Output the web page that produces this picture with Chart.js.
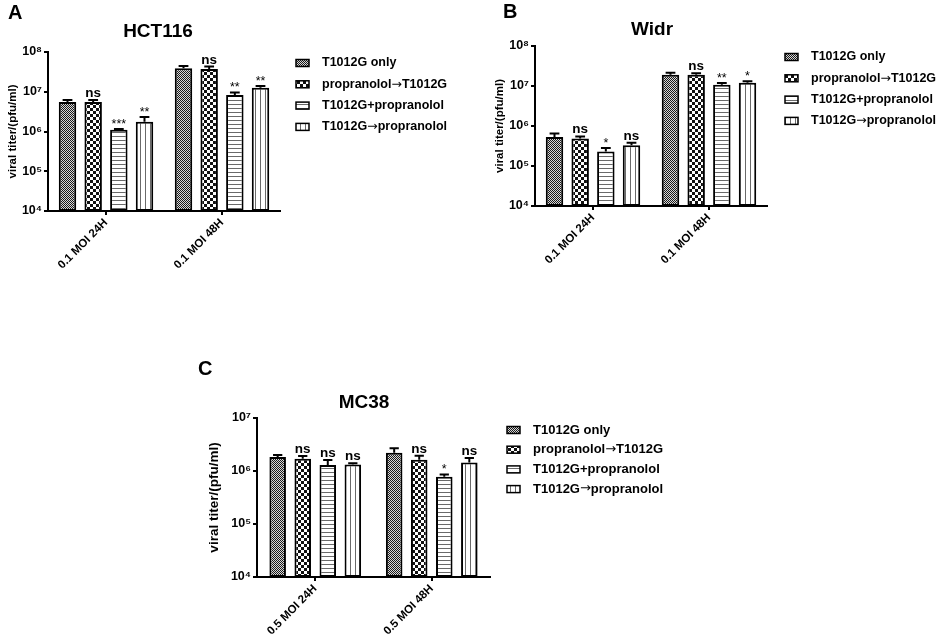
<!DOCTYPE html>
<html>
<head>
<meta charset="utf-8">
<script src="https://cdn.jsdelivr.net/npm/chart.js@4.4.1/dist/chart.umd.min.js"></script>
<style>
  html, body { margin: 0; padding: 0; background: #fff; }
  body { width: 941px; height: 642px; position: relative; overflow: hidden; }
  canvas { position: absolute; }
</style>
</head>
<body>
<canvas id="chartA" width="470" height="300" style="left:0;top:0"></canvas>
<canvas id="chartB" width="471" height="300" style="left:470px;top:0"></canvas>
<canvas id="chartC" width="500" height="302" style="left:190px;top:340px"></canvas>
<script>
const FONT = '"Liberation Sans", Arial, Helvetica, sans-serif';
const ARROW_FONT = '"DejaVu Sans", sans-serif';

// categories / series
const groupsLow = ["0.1 MOI 24H", "0.1 MOI 48H"];
const groupsHigh = ["0.5 MOI 24H", "0.5 MOI 48H"];
const seriesNames = ["T1012G only", "propranolol→T1012G", "T1012G+propranolol", "T1012G→propranolol"];
const yTicks8 = [1e4, 1e5, 1e6, 1e7, 1e8];
const yTicks7 = [1e4, 1e5, 1e6, 1e7];

// HCT116 (mean, sd, significance)
const hctOnly = [5.5e6, 3.9e7];
const hctPropFirst = [5.5e6, 3.75e7];
const hctCombo = [1.1e6, 8.3e6];
const hctPropAfter = [1.75e6, 1.26e7];
const hctOnlySd = [0.7e6, 5.5e6];
const hctPropFirstSd = [0.7e6, 5.5e6];
const hctComboSd = [0.06e6, 1.3e6];
const hctPropAfterSd = [0.55e6, 1.4e6];
const hctSig = [["", ""], ["ns", "ns"], ["***", "**"], ["**", "**"]];

// Widr
const widrOnly = [5.3e5, 1.9e7];
const widrPropFirst = [4.9e5, 1.9e7];
const widrCombo = [2.3e5, 1.07e7];
const widrPropAfter = [3.3e5, 1.2e7];
const widrOnlySd = [1.2e5, 2.4e6];
const widrPropFirstSd = [0.6e5, 1.8e6];
const widrComboSd = [0.5e5, 1.1e6];
const widrPropAfterSd = [0.5e5, 1.2e6];
const widrSig = [["", ""], ["ns", "ns"], ["*", "**"], ["ns", "*"]];

// MC38
const mcOnly = [1.84e6, 2.2e6];
const mcPropFirst = [1.7e6, 1.63e6];
const mcCombo = [1.3e6, 7.8e5];
const mcPropAfter = [1.33e6, 1.45e6];
const mcOnlySd = [0.16e6, 0.5e6];
const mcPropFirstSd = [0.22e6, 0.32e6];
const mcComboSd = [0.32e6, 0.8e5];
const mcPropAfterSd = [0.07e6, 0.31e6];
const mcSig = [["", ""], ["ns", "ns"], ["ns", "*"], ["ns", "ns"]];

function makePattern(kind) {
    const c = document.createElement("canvas");
    const g = c.getContext("2d");
    if (kind === "fine") {
        c.width = 2; c.height = 2;
        g.fillStyle = "#d8d8d8"; g.fillRect(0, 0, 2, 2);
        g.fillStyle = "#1a1a1a"; g.fillRect(0, 0, 1, 1); g.fillRect(1, 1, 1, 1);
    } else if (kind === "checker") {
        c.width = 6; c.height = 6;
        g.fillStyle = "#fff"; g.fillRect(0, 0, 6, 6);
        g.fillStyle = "#111"; g.fillRect(0, 0, 3, 3); g.fillRect(3, 3, 3, 3);
    } else if (kind === "hlines") {
        c.width = 4; c.height = 4;
        g.fillStyle = "#fff"; g.fillRect(0, 0, 4, 4);
        g.fillStyle = "#6a6a6a"; g.fillRect(0, 0, 4, 1);
    } else {
        c.width = 5; c.height = 5;
        g.fillStyle = "#fff"; g.fillRect(0, 0, 5, 5);
        g.fillStyle = "#6a6a6a"; g.fillRect(0, 0, 1, 5);
    }
    return g.createPattern(c, "repeat");
}
const patterns = [makePattern("fine"), makePattern("checker"), makePattern("hlines"), makePattern("vlines")];

const SUP = "⁰¹²³⁴⁵⁶⁷⁸⁹";
function powLabel(v) {
    const e = Math.round(Math.log10(v));
    return "10" + String(e).split("").map(d => SUP[+d]).join("");
}

// text with the arrow taken from a font that has a full-size one
function fillLabel(ctx, text, x, y, size) {
    const parts = text.split("→");
    parts.forEach((p, k) => {
        ctx.font = "bold " + size + "px " + FONT;
        ctx.fillText(p, x, y);
        x += ctx.measureText(p).width;
        if (k < parts.length - 1) {
            ctx.font = size + "px " + ARROW_FONT;
            ctx.fillText("→", x, y);
            x += ctx.measureText("→").width;
        }
    });
}

// error bars, significance marks, title, letter, legend
const panelExtras = {
    id: "panelExtras",
    afterDatasetsDraw(chart, args, opts) {
        const ctx = chart.ctx;
        const y = chart.scales.y;
        ctx.save();
        ctx.strokeStyle = "#000";
        ctx.fillStyle = "#000";
        ctx.lineWidth = 2;
        ctx.textAlign = "center";
        ctx.textBaseline = "alphabetic";
        chart.data.datasets.forEach((ds, i) => {
            chart.getDatasetMeta(i).data.forEach((bar, j) => {
                const top = y.getPixelForValue(ds.data[j] + ds.sd[j]);
                const cap = bar.width * 0.28;
                ctx.beginPath();
                ctx.moveTo(bar.x, bar.y);
                ctx.lineTo(bar.x, top);
                ctx.moveTo(bar.x - cap, top);
                ctx.lineTo(bar.x + cap, top);
                ctx.stroke();
                const s = ds.sig[j];
                if (s === "ns") {
                    ctx.font = "bold 13.5px " + FONT;
                    ctx.fillText(s, bar.x, top - 3);
                } else if (s) {
                    ctx.font = "12.5px " + FONT;
                    ctx.fillText(s, bar.x, top - 1);
                }
            });
        });
        ctx.restore();
    },
    afterDraw(chart, args, opts) {
        const ctx = chart.ctx;
        ctx.save();
        ctx.fillStyle = "#000";
        ctx.textBaseline = "alphabetic";
        ctx.textAlign = "left";
        ctx.font = "bold 20px " + FONT;
        ctx.fillText(opts.letter, opts.letterX, opts.letterY);

        ctx.textAlign = "center";
        ctx.textBaseline = "middle";
        ctx.font = "bold 19px " + FONT;
        ctx.fillText(opts.title, opts.titleX, opts.titleY);

        ctx.textAlign = "left";
        chart.data.datasets.forEach((ds, i) => {
            const cy = opts.legendTop + i * opts.legendStep;
            ctx.fillStyle = ds.backgroundColor;
            ctx.fillRect(opts.legendX, cy - 3.5, 13, 7);
            ctx.strokeStyle = "#000";
            ctx.lineWidth = 1.5;
            ctx.strokeRect(opts.legendX, cy - 3.5, 13, 7);
            ctx.fillStyle = "#000";
            fillLabel(ctx, ds.label, opts.legendX + 26, cy, opts.legendSize);
        });
        ctx.restore();
    }
};

function buildChart(id, labels, series, sds, sigs, yTicks, cfg) {
    const datasets = series.map((d, i) => ({
        label: seriesNames[i],
        data: d,
        sd: sds[i],
        sig: sigs[i],
        backgroundColor: patterns[i],
        borderColor: "#000",
        borderWidth: 2,
        borderSkipped: false,
        categoryPercentage: cfg.cp,
        barPercentage: cfg.bp
    }));
    return new Chart(document.getElementById(id), {
        type: "bar",
        data: { labels: labels, datasets: datasets },
        options: {
            responsive: false,
            animation: false,
            layout: { padding: cfg.pad },
            plugins: {
                legend: { display: false },
                tooltip: { enabled: false },
                panelExtras: cfg
            },
            scales: {
                x: {
                    grid: { offset: false, drawOnChartArea: false, drawTicks: true, tickLength: 4, lineWidth: 2, color: "#000" },
                    border: { display: true, color: "#000", width: 2 },
                    ticks: {
                        color: "#000", autoSkip: false, minRotation: 45, maxRotation: 45, padding: 1,
                        font: { family: FONT, size: 11.5, weight: "bold" }
                    },
                    afterFit: s => { s.height = cfg.xh; }
                },
                y: {
                    type: "logarithmic",
                    min: yTicks[0],
                    max: yTicks[yTicks.length - 1],
                    grid: { drawOnChartArea: false, drawTicks: true, tickLength: 4, lineWidth: 2, color: "#000" },
                    border: { display: true, color: "#000", width: 2 },
                    ticks: {
                        color: "#000", padding: 2,
                        font: { family: FONT, size: 12.5, weight: "bold" },
                        callback: v => powLabel(v)
                    },
                    afterBuildTicks: s => { s.ticks = yTicks.map(v => ({ value: v })); },
                    afterFit: s => { s.width = cfg.yw; },
                    title: {
                        display: true, text: "viral titer/(pfu/ml)", color: "#000", padding: 0,
                        font: { family: FONT, size: cfg.ytSize, weight: "bold" }
                    }
                }
            }
        },
        plugins: [panelExtras]
    });
}

buildChart("chartA", groupsLow,
    [hctOnly, hctPropFirst, hctCombo, hctPropAfter],
    [hctOnlySd, hctPropFirstSd, hctComboSd, hctPropAfterSd],
    hctSig, yTicks8,
    { pad: { left: 6, top: 52, right: 190, bottom: 19 }, yw: 42, xh: 70, cp: 0.885, bp: 0.68, ytSize: 11.5,
      letter: "A", letterX: 8, letterY: 19, title: "HCT116", titleX: 158, titleY: 32,
      legendX: 296, legendTop: 63, legendStep: 21.3, legendSize: 12.5 });

buildChart("chartB", groupsLow,
    [widrOnly, widrPropFirst, widrCombo, widrPropAfter],
    [widrOnlySd, widrPropFirstSd, widrComboSd, widrPropAfterSd],
    widrSig, yTicks8,
    { pad: { left: 23, top: 46, right: 174, bottom: 24 }, yw: 42, xh: 70, cp: 0.885, bp: 0.68, ytSize: 11.5,
      letter: "B", letterX: 33, letterY: 18, title: "Widr", titleX: 182, titleY: 30,
      legendX: 315, legendTop: 57, legendStep: 21.3, legendSize: 12.5 });

buildChart("chartC", groupsHigh,
    [mcOnly, mcPropFirst, mcCombo, mcPropAfter],
    [mcOnlySd, mcPropFirstSd, mcComboSd, mcPropAfterSd],
    mcSig, yTicks7,
    { pad: { left: 16, top: 78, right: 200, bottom: 0 }, yw: 51, xh: 65, cp: 0.86, bp: 0.66, ytSize: 13.5,
      letter: "C", letterX: 8, letterY: 35, title: "MC38", titleX: 174, titleY: 63,
      legendX: 317, legendTop: 90, legendStep: 19.7, legendSize: 13 });
</script>
</body>
</html>
